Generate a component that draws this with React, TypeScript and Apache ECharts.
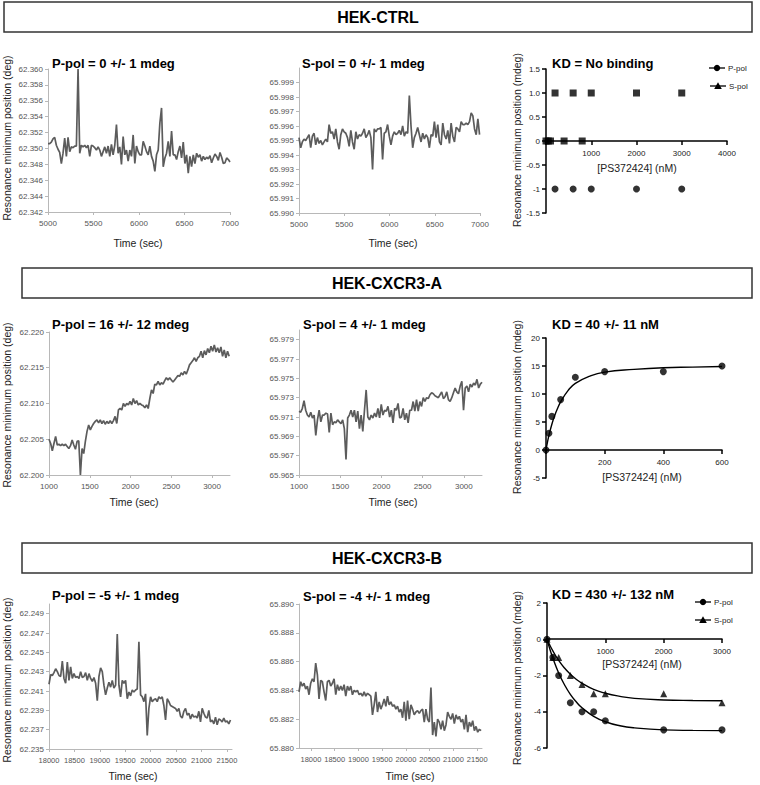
import React, { useEffect, useRef } from "react";
import * as echarts from "echarts";

// ---------- time-series data (deg) ----------
const ctrlPpolStart = 5000, ctrlPpolEnd = 7000;
const ctrlPpol = [
  62.3506, 62.3506, 62.3508, 62.3512, 62.3514, 62.3504, 62.3499, 62.3495, 62.3481, 62.3494,
  62.3513, 62.3490, 62.3514, 62.3496, 62.3502, 62.3501, 62.3503, 62.3503, 62.3600, 62.3494,
  62.3504, 62.3502, 62.3504, 62.3501, 62.3504, 62.3490, 62.3504, 62.3503, 62.3501, 62.3498,
  62.3502, 62.3498, 62.3490, 62.3496, 62.3502, 62.3494, 62.3503, 62.3490, 62.3505, 62.3492,
  62.3504, 62.3530, 62.3494, 62.3502, 62.3480, 62.3515, 62.3492, 62.3498, 62.3484, 62.3498,
  62.3490, 62.3517, 62.3481, 62.3503, 62.3496, 62.3492, 62.3492, 62.3509, 62.3503, 62.3496,
  62.3492, 62.3503, 62.3490, 62.3484, 62.3471, 62.3492, 62.3498, 62.3532, 62.3551, 62.3477,
  62.3488, 62.3494, 62.3509, 62.3490, 62.3522, 62.3492, 62.3492, 62.3486, 62.3496, 62.3503,
  62.3488, 62.3508, 62.3481, 62.3492, 62.3469, 62.3490, 62.3477, 62.3492, 62.3481, 62.3494,
  62.3489, 62.3492, 62.3484, 62.3490, 62.3486, 62.3489, 62.3487, 62.3491, 62.3482, 62.3488,
  62.3493, 62.3490, 62.3485, 62.3495, 62.3489, 62.3481, 62.3482, 62.3488, 62.3486, 62.3483,
];
const ctrlSpolStart = 5000, ctrlSpolEnd = 6995;
const ctrlSpol = [
  65.9952, 65.9945, 65.9949, 65.9951, 65.9950, 65.9952, 65.9954, 65.9945, 65.9953, 65.9955,
  65.9947, 65.9952, 65.9948, 65.9950, 65.9947, 65.9949, 65.9951, 65.9949, 65.9961, 65.9955,
  65.9956, 65.9951, 65.9958, 65.9949, 65.9944, 65.9954, 65.9958, 65.9956, 65.9955, 65.9952,
  65.9946, 65.9957, 65.9949, 65.9944, 65.9956, 65.9951, 65.9954, 65.9953, 65.9955, 65.9958,
  65.9952, 65.9954, 65.9957, 65.9952, 65.9930, 65.9958, 65.9956, 65.9958, 65.9958, 65.9959,
  65.9937, 65.9955, 65.9956, 65.9961, 65.9953, 65.9947, 65.9953, 65.9956, 65.9954, 65.9955,
  65.9957, 65.9954, 65.9960, 65.9953, 65.9956, 65.9955, 65.9981, 65.9960, 65.9945, 65.9952,
  65.9955, 65.9959, 65.9954, 65.9949, 65.9955, 65.9951, 65.9954, 65.9952, 65.9945, 65.9954,
  65.9953, 65.9963, 65.9952, 65.9961, 65.9949, 65.9947, 65.9962, 65.9954, 65.9951, 65.9957,
  65.9948, 65.9962, 65.9953, 65.9949, 65.9959, 65.9958, 65.9956, 65.9963, 65.9961, 65.9961,
  65.9962, 65.9961, 65.9963, 65.9969, 65.9967, 65.9958, 65.9954, 65.9965, 65.9954,
];
const aPpolStart = 1000, aPpolEnd = 3210;
const aPpol = [
  62.2050, 62.2044, 62.2034, 62.2044, 62.2054, 62.2042, 62.2043, 62.2041, 62.2043, 62.2041,
  62.2043, 62.2040, 62.2037, 62.2041, 62.2049, 62.2042, 62.2036, 62.2047, 62.2048, 62.2000,
  62.2037, 62.2030, 62.2047, 62.2061, 62.2070, 62.2063, 62.2068, 62.2072, 62.2075, 62.2077,
  62.2073, 62.2077, 62.2072, 62.2076, 62.2071, 62.2075, 62.2072, 62.2076, 62.2072, 62.2076,
  62.2082, 62.2072, 62.2091, 62.2093, 62.2091, 62.2100, 62.2096, 62.2100, 62.2098, 62.2103,
  62.2098, 62.2107, 62.2100, 62.2104, 62.2098, 62.2100, 62.2098, 62.2097, 62.2094, 62.2098,
  62.2093, 62.2107, 62.2119, 62.2114, 62.2127, 62.2126, 62.2131, 62.2126, 62.2129, 62.2127,
  62.2132, 62.2136, 62.2133, 62.2136, 62.2133, 62.2130, 62.2133, 62.2136, 62.2139, 62.2138,
  62.2143, 62.2140, 62.2145, 62.2141, 62.2147, 62.2154, 62.2157, 62.2160, 62.2164, 62.2159,
  62.2164, 62.2166, 62.2173, 62.2164, 62.2174, 62.2168, 62.2177, 62.2171, 62.2180, 62.2173,
  62.2182, 62.2172, 62.2178, 62.2171, 62.2179, 62.2166, 62.2175, 62.2164, 62.2173, 62.2166,
];
const aSpolStart = 1000, aSpolEnd = 3220;
const aSpol = [
  65.9716, 65.9715, 65.9719, 65.9727, 65.9717, 65.9712, 65.9710, 65.9715, 65.9709, 65.9712,
  65.9691, 65.9707, 65.9717, 65.9705, 65.9712, 65.9712, 65.9714, 65.9713, 65.9694, 65.9714,
  65.9702, 65.9705, 65.9704, 65.9707, 65.9705, 65.9703, 65.9707, 65.9698, 65.9666, 65.9709,
  65.9712, 65.9717, 65.9710, 65.9717, 65.9705, 65.9716, 65.9698, 65.9712, 65.9695, 65.9717,
  65.9738, 65.9710, 65.9707, 65.9712, 65.9709, 65.9714, 65.9710, 65.9719, 65.9709, 65.9723,
  65.9712, 65.9717, 65.9716, 65.9721, 65.9710, 65.9717, 65.9704, 65.9719, 65.9717, 65.9724,
  65.9709, 65.9710, 65.9719, 65.9707, 65.9714, 65.9704, 65.9717, 65.9717, 65.9726, 65.9716,
  65.9728, 65.9716, 65.9726, 65.9721, 65.9730, 65.9726, 65.9730, 65.9729, 65.9733, 65.9735,
  65.9734, 65.9732, 65.9731, 65.9730, 65.9733, 65.9736, 65.9729, 65.9731, 65.9736, 65.9728,
  65.9726, 65.9730, 65.9735, 65.9740, 65.9736, 65.9734, 65.9742, 65.9747, 65.9717, 65.9740,
  65.9742, 65.9736, 65.9744, 65.9741, 65.9745, 65.9743, 65.9749, 65.9740, 65.9744, 65.9746,
];
const bPpolStart = 18000, bPpolEnd = 21570;
const bPpol = [
  62.2417, 62.2427, 62.2426, 62.2429, 62.2433, 62.2430, 62.2426, 62.2425, 62.2441, 62.2423,
  62.2418, 62.2440, 62.2421, 62.2435, 62.2423, 62.2428, 62.2424, 62.2425, 62.2423, 62.2430,
  62.2424, 62.2425, 62.2429, 62.2421, 62.2428, 62.2423, 62.2420, 62.2424, 62.2418, 62.2400,
  62.2425, 62.2434, 62.2430, 62.2416, 62.2406, 62.2413, 62.2419, 62.2414, 62.2421, 62.2413,
  62.2416, 62.2469, 62.2416, 62.2404, 62.2421, 62.2418, 62.2421, 62.2402, 62.2409, 62.2405,
  62.2411, 62.2409, 62.2411, 62.2412, 62.2461, 62.2406, 62.2404, 62.2399, 62.2407, 62.2364,
  62.2392, 62.2404, 62.2399, 62.2401, 62.2402, 62.2399, 62.2404, 62.2402, 62.2404, 62.2395,
  62.2380, 62.2402, 62.2399, 62.2395, 62.2394, 62.2393, 62.2392, 62.2389, 62.2392, 62.2384,
  62.2382, 62.2389, 62.2392, 62.2385, 62.2387, 62.2381, 62.2386, 62.2383, 62.2384, 62.2382,
  62.2389, 62.2378, 62.2392, 62.2387, 62.2383, 62.2382, 62.2390, 62.2378, 62.2380, 62.2376,
  62.2383, 62.2375, 62.2381, 62.2380, 62.2378, 62.2382, 62.2378, 62.2379, 62.2376, 62.2380,
];
const bSpolStart = 17750, bSpolEnd = 21580;
const bSpol = [
  65.8839, 65.8846, 65.8843, 65.8845, 65.8841, 65.8843, 65.8837, 65.8845, 65.8848, 65.8846,
  65.8859, 65.8851, 65.8834, 65.8847, 65.8846, 65.8839, 65.8833, 65.8846, 65.8847, 65.8843,
  65.8845, 65.8848, 65.8837, 65.8844, 65.8840, 65.8843, 65.8840, 65.8844, 65.8836, 65.8843,
  65.8840, 65.8843, 65.8837, 65.8840, 65.8839, 65.8840, 65.8837, 65.8838, 65.8836, 65.8839,
  65.8836, 65.8838, 65.8837, 65.8836, 65.8823, 65.8830, 65.8839, 65.8825, 65.8832, 65.8827,
  65.8830, 65.8834, 65.8829, 65.8836, 65.8830, 65.8832, 65.8829, 65.8830, 65.8827, 65.8829,
  65.8825, 65.8827, 65.8821, 65.8832, 65.8819, 65.8833, 65.8820, 65.8830, 65.8827, 65.8823,
  65.8825, 65.8826, 65.8824, 65.8826, 65.8827, 65.8818, 65.8827, 65.8820, 65.8818, 65.8842,
  65.8809, 65.8818, 65.8808, 65.8820, 65.8818, 65.8813, 65.8819, 65.8812, 65.8816, 65.8825,
  65.8822, 65.8820, 65.8824, 65.8817, 65.8823, 65.8820, 65.8822, 65.8818, 65.8820, 65.8813,
  65.8823, 65.8811, 65.8818, 65.8815, 65.8819, 65.8812, 65.8815, 65.8811, 65.8813, 65.8812,
];

// ---------- binding data (mdeg vs nM) ----------
const ctrlPpolPts = [[200, -1], [600, -1], [1000, -1], [2000, -1], [3000, -1]];
const ctrlSpolPts = [[0, 0], [50, 0], [100, 0], [400, 0], [800, 0], [200, 1], [600, 1], [1000, 1], [2000, 1], [3000, 1]];

const aConc = [0, 10, 20, 50, 100, 200, 400, 600];
const aResp = [0, 3, 6, 9, 13, 14, 14, 15];
const aFitX = [0, 5, 10, 20, 30, 40, 50, 75, 100, 150, 200, 300, 400, 500, 600];
const aFitY = [0, 1.4, 2.6, 4.6, 6.2, 7.5, 8.6, 10.6, 11.9, 13.2, 13.9, 14.4, 14.7, 14.8, 14.9];

const bConc = [0, 100, 200, 400, 600, 800, 1000, 2000, 3000];
const bPResp = [0, -1, -2, -3.5, -4, -4, -4.5, -5, -5];
const bSResp = [0, -1, -1, -2, -2.5, -3, -3, -3, -3.5];
const bFitX = [0, 50, 100, 200, 300, 400, 500, 600, 800, 1000, 1250, 1500, 2000, 2500, 3000];
const bPFitY = [0, -0.55, -1.04, -1.86, -2.51, -3.04, -3.45, -3.78, -4.25, -4.55, -4.77, -4.89, -5.0, -5.03, -5.04];
const bSFitY = [0, -0.34, -0.64, -1.17, -1.59, -1.93, -2.21, -2.43, -2.77, -2.98, -3.15, -3.26, -3.35, -3.38, -3.39];

// ---------- tick labels ----------
const ctrlPTicks = [62.342, 62.344, 62.346, 62.348, 62.350, 62.352, 62.354, 62.356, 62.358, 62.360];
const ctrlSTicks = [65.990, 65.991, 65.992, 65.993, 65.994, 65.995, 65.996, 65.997, 65.998, 65.999];
const aPTicks = [62.200, 62.205, 62.210, 62.215, 62.220];
const aSTicks = [65.965, 65.967, 65.969, 65.971, 65.973, 65.975, 65.977, 65.979];
const bPTicks = [62.235, 62.237, 62.239, 62.241, 62.243, 62.245, 62.247, 62.249];
const bSTicks = [65.880, 65.882, 65.884, 65.886, 65.888, 65.890];
const ctrlTimeTicks = [5000, 5500, 6000, 6500, 7000];
const aTimeTicks = [1000, 1500, 2000, 2500, 3000];
const bTimeTicks = [18000, 18500, 19000, 19500, 20000, 20500, 21000, 21500];

const FONT = "'Liberation Sans', Arial, Helvetica, sans-serif";

const grids = [
  { left: 48, top: 69, width: 182, height: 143 },
  { left: 299, top: 68, width: 181, height: 145 },
  { left: 546, top: 69, width: 181, height: 144 },
  { left: 49, top: 332, width: 181, height: 143 },
  { left: 299, top: 330, width: 183, height: 145 },
  { left: 546, top: 338, width: 176, height: 140 },
  { left: 49, top: 604, width: 183, height: 145 },
  { left: 299, top: 604, width: 183, height: 144 },
  { left: 547, top: 603, width: 175, height: 145 },
];

const toSeries = (start: number, end: number, vals: number[]) =>
  vals.map((v, i) => [start + ((end - start) * i) / (vals.length - 1), v]);
const zip = (xs: number[], ys: number[]) => xs.map((x, i) => [x, ys[i]]);

const excelX = (idx: number, min: number, max: number, ticks: number[], fs = 8) => ({
  type: "value", gridIndex: idx, min, max,
  splitLine: { show: false },
  axisLine: { show: true, onZero: false, lineStyle: { color: "#b8b8b8", width: 1 } },
  axisTick: { show: true, length: 3, customValues: ticks, lineStyle: { color: "#b8b8b8" } },
  axisLabel: { customValues: ticks, fontSize: fs, color: "#555", margin: 7, fontFamily: FONT,
    hideOverlap: false, interval: 0, formatter: (v: number) => String(v) },
});
const excelY = (idx: number, min: number, max: number, ticks: number[]) => ({
  type: "value", gridIndex: idx, min, max,
  splitLine: { show: false },
  axisLine: { show: true, onZero: false, lineStyle: { color: "#b8b8b8", width: 1 } },
  axisTick: { show: true, length: 3, customValues: ticks, lineStyle: { color: "#b8b8b8" } },
  axisLabel: { customValues: ticks, fontSize: 8, color: "#555", margin: 5, fontFamily: FONT,
    hideOverlap: false, formatter: (v: number) => v.toFixed(3) },
});
// GraphPad-style x axis drawn through y = 0 (offset lifts it from the grid's bottom edge)
const gpX = (idx: number, max: number, interval: number, zeroOffset: number) => ({
  type: "value", gridIndex: idx, min: 0, max, interval, offset: -zeroOffset,
  splitLine: { show: false },
  axisLine: { show: true, onZero: false, lineStyle: { color: "#000", width: 1.5 } },
  axisTick: { show: true, length: 4, lineStyle: { color: "#000", width: 1.5 } },
  axisLabel: { fontSize: 8, color: "#222", margin: 8, fontFamily: FONT,
    formatter: (v: number) => (v === 0 ? "" : String(v)) },
});
const gpY = (idx: number, min: number, max: number, interval: number, fmt: (v: number) => string) => ({
  type: "value", gridIndex: idx, min, max, interval,
  splitLine: { show: false },
  axisLine: { show: true, onZero: false, lineStyle: { color: "#000", width: 1.5 } },
  axisTick: { show: true, length: 4, lineStyle: { color: "#000", width: 1.5 } },
  axisLabel: { fontSize: 8, color: "#222", margin: 6, fontFamily: FONT, formatter: fmt },
});

const trace = (idx: number, data: number[][]) => ({
  type: "line", xAxisIndex: idx, yAxisIndex: idx, data, showSymbol: false, symbol: "none",
  lineStyle: { color: "#5c5c5c", width: 1.7 }, silent: true,
});
const pts = (idx: number, name: string, data: number[][], symbol: string) => ({
  type: "scatter", name, xAxisIndex: idx, yAxisIndex: idx, data, symbol, symbolSize: 7,
  itemStyle: { color: "#000" }, silent: true,
});
const fit = (idx: number, data: number[][]) => ({
  type: "line", xAxisIndex: idx, yAxisIndex: idx, data, showSymbol: false, symbol: "none", smooth: true,
  lineStyle: { color: "#000", width: 1.4 }, silent: true,
});

const txt = (x: number, y: number, text: string, font: string, align = "left", rotation = 0, fill = "#000") => ({
  type: "text", x, y, rotation, silent: true,
  style: { text, font, fill, align, verticalAlign: "middle", textAlign: align, textVerticalAlign: "middle" },
});
const box = (x: number, y: number, w: number, h: number, label: string) => [
  { type: "rect", shape: { x, y, width: w, height: h }, style: { fill: "#fff", stroke: "#333", lineWidth: 1.5 }, silent: true },
  txt(x + w / 2, y + h / 2, label, `bold 16px ${FONT}`, "center"),
];
const legendRow = (x: number, y: number, label: string, marker: "circle" | "triangle") => [
  { type: "line", shape: { x1: x, y1: y, x2: x + 16, y2: y }, style: { stroke: "#000", lineWidth: 1.3 }, silent: true },
  marker === "circle"
    ? { type: "circle", shape: { cx: x + 8, cy: y, r: 3.2 }, style: { fill: "#000" }, silent: true }
    : { type: "polygon", shape: { points: [[x + 8, y - 3.8], [x + 4.2, y + 3], [x + 11.8, y + 3]] }, style: { fill: "#000" }, silent: true },
  txt(x + 19, y, label, `8px ${FONT}`, "left", 0, "#222"),
];

const TITLE = `bold 13px ${FONT}`;
const AXNAME = `10.5px ${FONT}`;
const yLabelTopFmt: Record<string, string> = { "1.5": "1.5", "1": "1.0", "0.5": "0.5", "0": "0", "-0.5": "-0.5", "-1": "-1", "-1.5": "-1.5" };

const option = {
  animation: false,
  backgroundColor: "#fff",
  grid: grids.map((g) => ({ ...g, containLabel: false })),
  xAxis: [
    excelX(0, ctrlPpolStart, ctrlPpolEnd, ctrlTimeTicks),
    excelX(1, 5000, 7000, ctrlTimeTicks),
    gpX(2, 4000, 1000, 72),
    excelX(3, 1000, 3220, aTimeTicks),
    excelX(4, 1000, 3220, aTimeTicks),
    gpX(5, 600, 200, 28),
    excelX(6, 18000, 21600, bTimeTicks, 7.5),
    excelX(7, 17750, 21600, bTimeTicks, 7.5),
    gpX(8, 3000, 1000, 109),
  ],
  yAxis: [
    excelY(0, 62.342, 62.360, ctrlPTicks),
    excelY(1, 65.990, 66.000, ctrlSTicks),
    gpY(2, -1.5, 1.5, 0.5, (v: number) => yLabelTopFmt[String(v)] ?? String(v)),
    excelY(3, 62.200, 62.220, aPTicks),
    excelY(4, 65.965, 65.980, aSTicks),
    gpY(5, -5, 20, 5, (v: number) => String(v)),
    excelY(6, 62.235, 62.250, bPTicks),
    excelY(7, 65.880, 65.890, bSTicks),
    gpY(8, -6, 2, 2, (v: number) => String(v)),
  ],
  series: [
    trace(0, toSeries(ctrlPpolStart, ctrlPpolEnd, ctrlPpol)),
    trace(1, toSeries(ctrlSpolStart, ctrlSpolEnd, ctrlSpol)),
    pts(2, "P-pol", ctrlPpolPts, "circle"),
    pts(2, "S-pol", ctrlSpolPts, "rect"),
    trace(3, toSeries(aPpolStart, aPpolEnd, aPpol)),
    trace(4, toSeries(aSpolStart, aSpolEnd, aSpol)),
    fit(5, zip(aFitX, aFitY)),
    pts(5, "P-pol", zip(aConc, aResp), "circle"),
    trace(6, toSeries(bPpolStart, bPpolEnd, bPpol)),
    trace(7, toSeries(bSpolStart, bSpolEnd, bSpol)),
    fit(8, zip(bFitX, bPFitY)),
    fit(8, zip(bFitX, bSFitY)),
    pts(8, "P-pol", zip(bConc, bPResp), "circle"),
    pts(8, "S-pol", zip(bConc, bSResp), "triangle"),
  ],
  graphic: [
    ...box(4, 2, 748, 30, "HEK-CTRL"),
    ...box(22, 268, 730, 30, "HEK-CXCR3-A"),
    ...box(22, 543, 730, 30, "HEK-CXCR3-B"),
    // panel titles
    txt(52, 63, "P-pol = 0 +/- 1 mdeg", TITLE),
    txt(302, 63, "S-pol = 0 +/- 1 mdeg", TITLE),
    txt(552, 63, "KD = No binding", TITLE),
    txt(52, 324, "P-pol = 16 +/- 12 mdeg", TITLE),
    txt(303, 324, "S-pol = 4 +/- 1 mdeg", TITLE),
    txt(552, 324, "KD = 40 +/- 11 nM", TITLE),
    txt(52, 595, "P-pol = -5 +/- 1 mdeg", TITLE),
    txt(303, 596, "S-pol = -4 +/- 1 mdeg", TITLE),
    txt(552, 594, "KD = 430 +/- 132 nM", TITLE),
    // y axis names
    txt(7, 138, "Resonance minimum position (deg)", AXNAME, "center", Math.PI / 2, "#222"),
    txt(7, 405, "Resonance minimum position (deg)", AXNAME, "center", Math.PI / 2, "#222"),
    txt(7, 680, "Resonance minimum position (deg)", AXNAME, "center", Math.PI / 2, "#222"),
    txt(517, 140, "Resonance minimum position (mdeg)", AXNAME, "center", Math.PI / 2, "#222"),
    txt(517, 407, "Resonance minimum position (mdeg)", AXNAME, "center", Math.PI / 2, "#222"),
    txt(517, 678, "Resonance minimum position (mdeg)", AXNAME, "center", Math.PI / 2, "#222"),
    // x axis names
    txt(138, 243, "Time (sec)", AXNAME, "center", 0, "#222"),
    txt(393, 243, "Time (sec)", AXNAME, "center", 0, "#222"),
    txt(637, 168, "[PS372424] (nM)", AXNAME, "center", 0, "#222"),
    txt(134, 502, "Time (sec)", AXNAME, "center", 0, "#222"),
    txt(393, 502, "Time (sec)", AXNAME, "center", 0, "#222"),
    txt(642, 477, "[PS372424] (nM)", AXNAME, "center", 0, "#222"),
    txt(133, 776, "Time (sec)", AXNAME, "center", 0, "#222"),
    txt(410, 776, "Time (sec)", AXNAME, "center", 0, "#222"),
    txt(642, 664, "[PS372424] (nM)", AXNAME, "center", 0, "#222"),
    // legends
    ...legendRow(709, 68, "P-pol", "circle"),
    ...legendRow(710, 86, "S-pol", "triangle"),
    ...legendRow(695, 602, "P-pol", "circle"),
    ...legendRow(695, 620, "S-pol", "triangle"),
  ],
};

export default function App() {
  const ref = useRef<HTMLDivElement>(null);
  useEffect(() => {
    const chart = echarts.init(ref.current!, null, { renderer: "svg" });
    chart.setOption(option as any);
    return () => chart.dispose();
  }, []);
  return (
    <div
      ref={ref}
      style={{ position: "absolute", left: 0, top: 0, width: 760, height: 785, background: "#fff" }}
    />
  );
}
